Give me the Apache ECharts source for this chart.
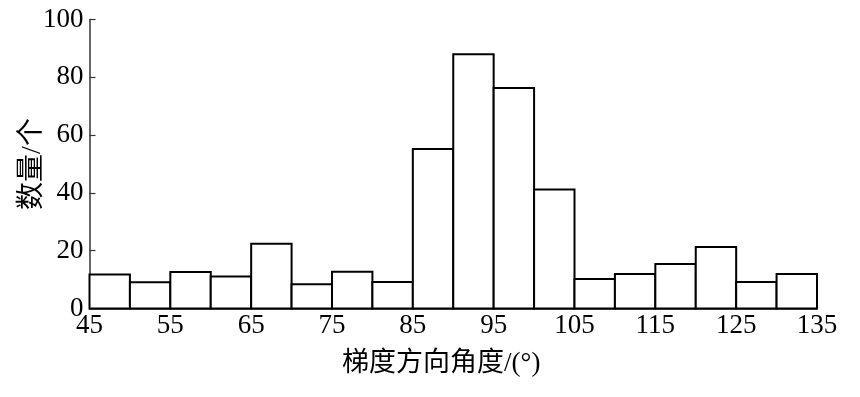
<!DOCTYPE html>
<html>
<head>
<meta charset="utf-8">
<script src="https://cdn.jsdelivr.net/npm/echarts@6/dist/echarts.min.js"></script>
<style>html,body{margin:0;padding:0;background:#fff;}#chart{width:860px;height:397px;}</style>
</head>
<body>
<div id="chart"></div>
<script>
var binStarts = [45, 50, 55, 60, 65, 70, 75, 80, 85, 90, 95, 100, 105, 110, 115, 120, 125, 130];
var binWidth = 5;
var counts = [11.8, 9.1, 12.6, 11.1, 22.4, 8.4, 12.7, 9.2, 55.2, 88, 76.3, 41.2, 10.2, 11.9, 15.4, 21.3, 9.2, 11.9];
var xTickLabels = [45, 55, 65, 75, 85, 95, 105, 115, 125, 135];
var yTickLabels = [0, 20, 40, 60, 80, 100];
var xName = '梯度方向角度/(°)';
var yName = '数量/个';

var data = binStarts.map(function (s, i) { return [s, s + binWidth, counts[i]]; });
var fontFam = '"Liberation Serif", "Noto Sans CJK SC", serif';

var chart = echarts.init(document.getElementById('chart'));
chart.setOption({
  backgroundColor: '#fff',
  animation: false,
  grid: { left: 89.5, right: 43, top: 19.5, bottom: 88.5, containLabel: false, outerBoundsMode: 'none' },
  xAxis: {
    type: 'value', min: 45, max: 135, interval: 5,
    axisLine: { show: true, lineStyle: { color: '#333', width: 1.5 } },
    axisTick: { show: false },
    splitLine: { show: false },
    axisLabel: {
      color: '#000', fontFamily: fontFam, fontSize: 27, margin: 4,
      formatter: function (v) { return xTickLabels.indexOf(v) >= 0 ? String(v) : ''; }
    },
    name: xName, nameLocation: 'middle', nameGap: 42, nameMoveOverlap: false,
    nameTextStyle: { color: '#000', fontFamily: fontFam, fontSize: 27, padding: [0, 24, 0, 0] }
  },
  yAxis: {
    type: 'value', min: 0, max: 100, interval: 20,
    axisLine: { show: true, lineStyle: { color: '#333', width: 1.5 } },
    axisTick: { show: true, inside: true, length: 6, lineStyle: { color: '#333', width: 1.2 } },
    splitLine: { show: false },
    axisLabel: {
      color: '#000', fontFamily: fontFam, fontSize: 27, margin: 6,
      formatter: function (v) { return yTickLabels.indexOf(v) >= 0 ? String(v) : ''; }
    },
    name: yName, nameLocation: 'middle', nameGap: 43, nameRotate: 90, nameMoveOverlap: false,
    nameTextStyle: { color: '#000', fontFamily: fontFam, fontSize: 28 }
  },
  series: [{
    type: 'custom',
    data: data,
    encode: { x: [0, 1], y: 2 },
    renderItem: function (params, api) {
      var p0 = api.coord([api.value(0), 0]);
      var p1 = api.coord([api.value(1), api.value(2)]);
      return {
        type: 'rect',
        shape: { x: p0[0], y: p1[1], width: p1[0] - p0[0], height: p0[1] - p1[1] },
        style: { fill: '#fff', stroke: '#000', lineWidth: 2 }
      };
    }
  }]
});
</script>
</body>
</html>
